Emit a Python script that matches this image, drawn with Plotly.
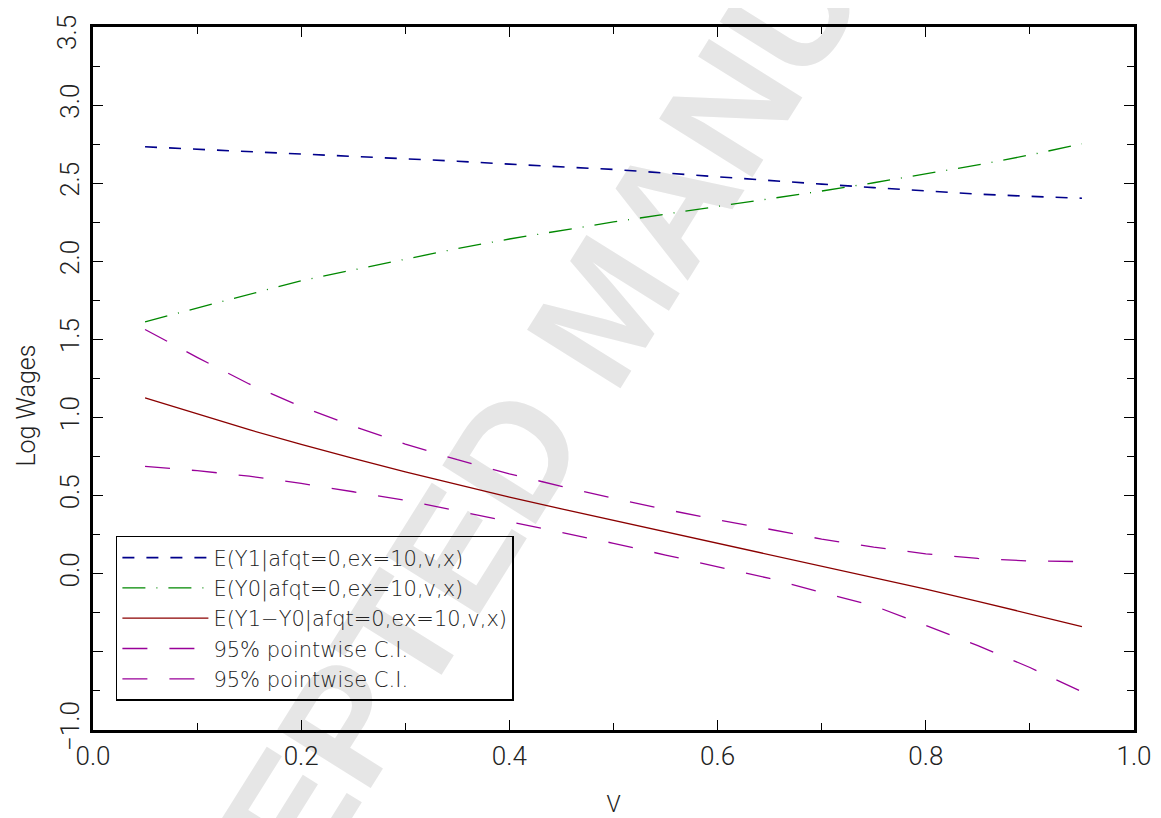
import plotly.graph_objects as go

v = [0.05, 0.10, 0.15, 0.20, 0.25, 0.30, 0.35, 0.40, 0.45, 0.50,
     0.55, 0.60, 0.65, 0.70, 0.75, 0.80, 0.85, 0.90, 0.95]

y1 = [2.733, 2.718, 2.703, 2.688, 2.672, 2.657, 2.641, 2.622, 2.605, 2.588,
      2.565, 2.540, 2.517, 2.494, 2.472, 2.449, 2.430, 2.416, 2.404]
y0 = [1.613, 1.700, 1.790, 1.876, 1.945, 2.015, 2.082, 2.143, 2.198, 2.252,
      2.302, 2.350, 2.400, 2.450, 2.503, 2.558, 2.617, 2.681, 2.752]
diff = [1.126, 1.022, 0.922, 0.828, 0.738, 0.653, 0.570, 0.490, 0.415, 0.342,
        0.268, 0.195, 0.122, 0.050, -0.023, -0.098, -0.176, -0.256, -0.338]
ci_up = [1.564, 1.385, 1.215, 1.070, 0.945, 0.830, 0.730, 0.640, 0.560, 0.483,
         0.412, 0.345, 0.285, 0.222, 0.170, 0.128, 0.098, 0.082, 0.078]
ci_lo = [0.688, 0.660, 0.625, 0.578, 0.525, 0.470, 0.403, 0.335, 0.265, 0.195,
         0.120, 0.045, -0.030, -0.120, -0.205, -0.330, -0.460, -0.600, -0.755]

names = ["E(Y1|afqt=0,ex=10,v,x)", "E(Y0|afqt=0,ex=10,v,x)",
         "E(Y1\u2212Y0|afqt=0,ex=10,v,x)", "95% pointwise C.I.", "95% pointwise C.I."]

xtick_vals = [0.0, 0.2, 0.4, 0.6, 0.8, 1.0]
xtick_text = ["0.0", "0.2", "0.4", "0.6", "0.8", "1.0"]
ytick_vals = [-1.0, -0.5, 0.0, 0.5, 1.0, 1.5, 2.0, 2.5, 3.0, 3.5]
ytick_text = ["\u22121.0", "", "0.0", "0.5", "1.0", "1.5", "2.0", "2.5", "3.0", ""]
ytop_val = 3.5
ytop_text = "3.5"

FONT = "Roboto"
LFONT = "DejaVu Sans"
TICKFONT = dict(family=FONT, size=26, color="#222", weight=300)

fig = go.Figure()
fig.add_trace(go.Scatter(x=v, y=y1, mode="lines", name=names[0],
                         line=dict(color="#00008B", width=1.6, dash="12px,12px")))
fig.add_trace(go.Scatter(x=v, y=y0, mode="lines", name=names[1],
                         line=dict(color="#008800", width=1.3, dash="23px,11px,1px,11px")))
fig.add_trace(go.Scatter(x=v, y=diff, mode="lines", name=names[2],
                         line=dict(color="#8B0000", width=1.3)))
fig.add_trace(go.Scatter(x=v, y=ci_up, mode="lines", name=names[3],
                         line=dict(color="#990099", width=1.3, dash="25px,22px")))
fig.add_trace(go.Scatter(x=v, y=ci_lo, mode="lines", name=names[4],
                         line=dict(color="#990099", width=1.3, dash="25px,22px")))

axis_common = dict(showline=True, linecolor="black", linewidth=3, mirror="ticks",
                   ticks="inside", ticklen=10, tickwidth=1.3, tickcolor="black",
                   showgrid=False, zeroline=False, automargin=False,
                   ticklabeloverflow="allow", tickfont=TICKFONT)

fig.update_xaxes(range=[0, 1], tickvals=xtick_vals, ticktext=xtick_text,
                 minor=dict(dtick=0.1, tick0=0, ticks="inside", ticklen=7,
                            tickwidth=1.3, tickcolor="black"),
                 ticklabelstandoff=1,
                 title=dict(text="V", font=dict(family=FONT, size=23, color="#222", weight=300),
                            standoff=32),
                 **axis_common)
fig.update_yaxes(range=[-1, 3.5], tickvals=ytick_vals, ticktext=ytick_text, tickangle=-90,
                 minor=dict(dtick=0.25, tick0=0, ticks="inside", ticklen=7,
                            tickwidth=1.3, tickcolor="black"),
                 ticklabelstandoff=1,
                 **axis_common)

fig.update_layout(
    width=1153, height=810,
    margin=dict(l=85, r=27, t=19, b=88),
    paper_bgcolor="white", plot_bgcolor="white",
    showlegend=True,
    legend=dict(x=0.022, y=0.276, xanchor="left", yanchor="top",
                bgcolor="rgba(0,0,0,0)", bordercolor="black", borderwidth=1.5,
                font=dict(family=LFONT, size=21, color="#222", weight=200),
                itemwidth=86, tracegroupgap=0),
    annotations=[
        dict(text="Log Wages", xref="paper", yref="paper", x=-0.064, y=0.462,
             xanchor="center", yanchor="middle", textangle=-90, showarrow=False,
             font=dict(family=FONT, size=25, color="#222", weight=300)),
        dict(text=ytop_text, xref="paper", yref="y", x=0, y=ytop_val, xshift=-9, yshift=-6,
             xanchor="right", yanchor="middle", textangle=-90, showarrow=False,
             font=TICKFONT),
    ],
    shapes=[dict(type="rect", xref="paper", yref="paper", x0=0.43, x1=0.53, y0=0.562, y1=0.662,
                 line=dict(width=0), fillcolor="rgba(0,0,0,0)", layer="below",
                 label=dict(text="ACCEPTED MANUSCRIPT", textangle=-58,
                            textposition="middle center",
                            font=dict(family="Liberation Sans", size=160, color="#e6e6e6",
                                      weight="bold")))],
)

fig.write_html("out.html")
